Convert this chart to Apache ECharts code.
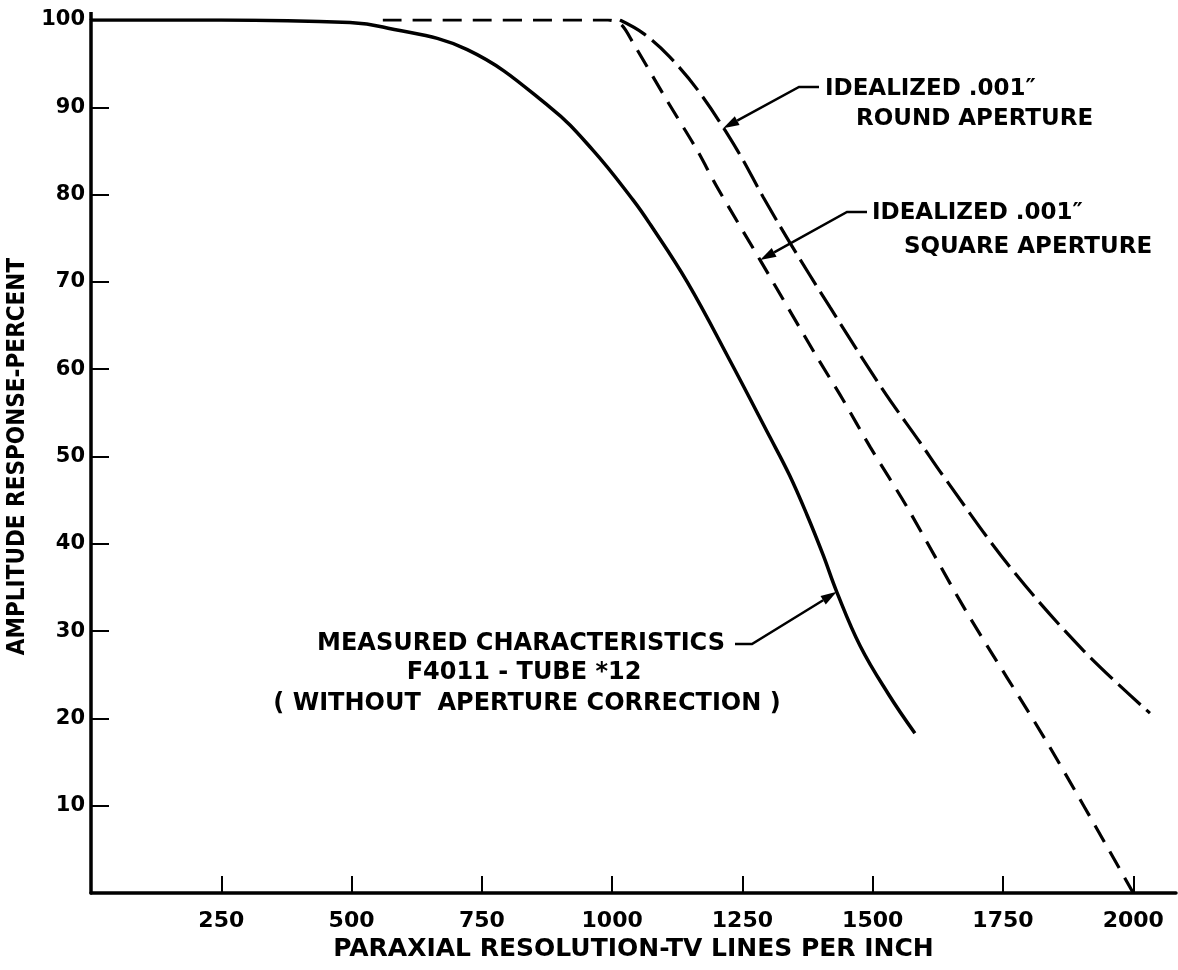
<!DOCTYPE html>
<html><head><meta charset="utf-8">
<script src="https://cdn.jsdelivr.net/npm/echarts@6/dist/echarts.min.js"></script>
<style>html,body{margin:0;padding:0;background:#fff}#c{width:1178px;height:970px}</style>
</head><body><div id="c"></div>
<script>
// ---- data ----
const xTicks = [250, 500, 750, 1000, 1250, 1500, 1750, 2000];
const yTicks = [10, 20, 30, 40, 50, 60, 70, 80, 90, 100];
const measured = [[0,100],[250,100],[497,99.7],[560,99.2],[722,96.6],[881,90.0],[963,85.1],[1040,79.4],[1073,76.6],[1144,70.0],[1226,61.0],[1303,52.2],[1340,47.9],[1374,43.3],[1405,38.7],[1431,34.5],[1476,28.3],[1530,22.8],[1581,18.3]];
const squareAp = [[560,100],[992,100],[1017,99.5],[1040,97.4],[1105,90.8],[1163,85.1],[1201,80.9],[1284,72.5],[1393,61.4],[1443,56.5],[1495,51.1],[1566,44.2],[1681,32.1],[1835,17.2],[2000,0]];
const roundAp = [[1015,100],[1059,98.5],[1110,95.8],[1169,91.6],[1240,85.1],[1290,79.7],[1341,74.5],[1418,67.1],[1520,57.6],[1591,51.6],[1635,47.8],[1764,37.3],[1904,27.8],[2032,20.6]];
const labelRound = ['IDEALIZED .001\u2033', 'ROUND APERTURE'];
const labelSquare = ['IDEALIZED .001\u2033', 'SQUARE APERTURE'];
const labelMeasured = ['MEASURED CHARACTERISTICS', 'F4011 - TUBE *12', '( WITHOUT  APERTURE CORRECTION )'];
const tipRound = [1213, 87.6];
const tipSquare = [1284, 72.5];
const tipMeasured = [1431, 34.5];

const chart = echarts.init(document.getElementById('c'), null, {renderer: 'canvas'});
const FONT = '"DejaVu Sans", sans-serif';
const CFONT = '"DejaVu Sans Condensed", "DejaVu Sans", sans-serif';

chart.setOption({
  animation: false,
  backgroundColor: '#fff',
  grid: {left: 91, right: 2, top: 20, bottom: 77, containLabel: false, outerBoundsMode: 'none'},
  xAxis: {
    type: 'value', min: 0, max: 2082, interval: 250,
    name: 'PARAXIAL RESOLUTION-TV LINES PER INCH', nameLocation: 'middle', nameGap: 38,
    nameTextStyle: {fontFamily: FONT, fontWeight: 'bold', fontSize: 25, color: '#000'},
    axisLine: {lineStyle: {color: '#000', width: 3.5}},
    axisTick: {inside: true, length: 17, lineStyle: {color: '#000', width: 2}, customValues: xTicks},
    axisLabel: {customValues: xTicks, formatter: v => String(v), color: '#000', fontFamily: FONT, fontWeight: 'bold', fontSize: 22, margin: 17},
    splitLine: {show: false}
  },
  yAxis: {
    type: 'value', min: 0, max: 100, interval: 10,
    name: 'AMPLITUDE RESPONSE-PERCENT', nameLocation: 'middle', nameGap: 57, nameRotate: 90,
    nameTextStyle: {fontFamily: CFONT, fontWeight: 'bold', fontSize: 24, color: '#000'},
    axisLine: {lineStyle: {color: '#000', width: 3.5}},
    axisTick: {inside: true, length: 18, lineStyle: {color: '#000', width: 2}, customValues: yTicks},
    axisLabel: {customValues: yTicks, formatter: v => String(v), color: '#000', fontFamily: FONT, fontWeight: 'bold', fontSize: 21, margin: 6},
    splitLine: {show: false}
  },
  series: [
    {type: 'line', name: 'measured', data: measured, smooth: 0.4, symbol: 'none',
     lineStyle: {color: '#000', width: 3.5}},
    {type: 'line', name: 'square', data: squareAp, smooth: 0.3, symbol: 'none',
     lineStyle: {color: '#000', width: 3.2, type: [19, 11]}},
    {type: 'line', name: 'round', data: roundAp, smooth: 0.35, symbol: 'none',
     lineStyle: {color: '#000', width: 3.2, type: [30, 8]}}
  ]
});

function arrowGroup(tip, elbow, tailEnd) {
  const t = chart.convertToPixel({gridIndex: 0}, tip);
  const dx = t[0] - elbow[0], dy = t[1] - elbow[1];
  const L = Math.hypot(dx, dy), ux = dx / L, uy = dy / L;
  const hl = 16, hw = 5;
  const bx = t[0] - ux * hl, by = t[1] - uy * hl;
  return [
    {type: 'polyline', shape: {points: [tailEnd, elbow, [bx, by]]}, style: {stroke: '#000', lineWidth: 2.5, fill: null}},
    {type: 'polygon', shape: {points: [t, [bx - uy * hw, by + ux * hw], [bx + uy * hw, by - ux * hw]]}, style: {fill: '#000'}}
  ];
}
function txt(x, y, s, size, align) {
  return {type: 'text', x: x, y: y, style: {text: s, fill: '#000', font: 'bold ' + size + 'px ' + FONT, align: align || 'left', verticalAlign: 'middle'}};
}
const g = [];
// y-axis line runs a little above the 100 level, as in the reference
const top100 = chart.convertToPixel({gridIndex: 0}, [0, 100]);
g.push({type: 'line', shape: {x1: top100[0], y1: top100[1], x2: top100[0], y2: top100[1] - 8}, style: {stroke: '#000', lineWidth: 3.5}});
g.push(...arrowGroup(tipRound, [799, 87], [819, 87]));
g.push(txt(825, 89, labelRound[0], 23), txt(856, 119, labelRound[1], 23));
g.push(...arrowGroup(tipSquare, [847, 212], [867, 212]));
g.push(txt(872, 213, labelSquare[0], 23), txt(904, 247, labelSquare[1], 23));
g.push(...arrowGroup(tipMeasured, [752, 644], [735, 644]));
g.push(txt(521, 644, labelMeasured[0], 24, 'center'), txt(524, 673, labelMeasured[1], 24, 'center'), txt(527, 704, labelMeasured[2], 24, 'center'));
chart.setOption({graphic: g});
</script></body></html>
